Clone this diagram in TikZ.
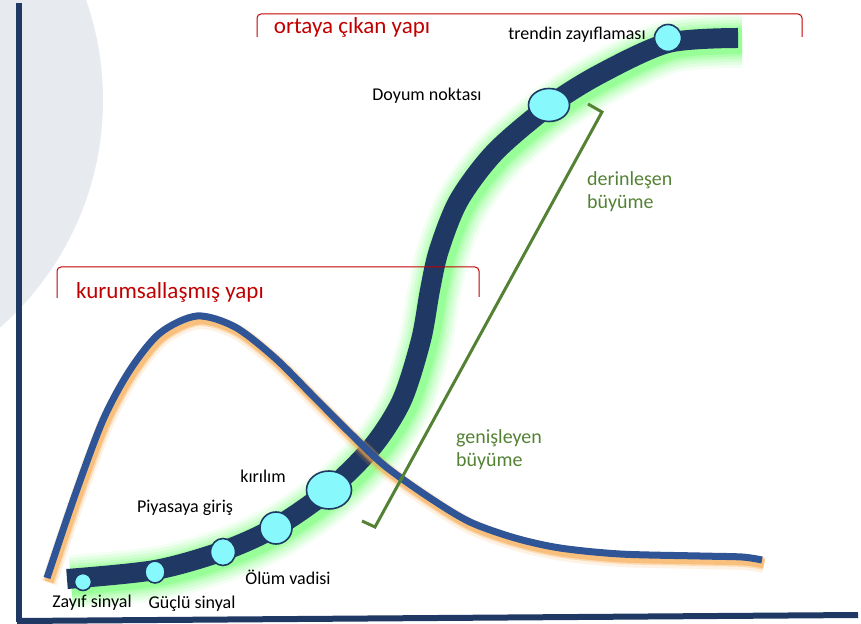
\documentclass[tikz,border=0pt]{standalone}
\usepackage{fontspec}
\setmainfont{Carlito}
\usepackage{xcolor}
\usepackage{tikz}
\usetikzlibrary{shapes,positioning,calc}

\definecolor{navy}{HTML}{203864}
\definecolor{curveblue}{HTML}{2F5597}
\definecolor{bggray}{HTML}{E7EBF0}
\definecolor{dotcyan}{HTML}{87F8FC}
\definecolor{glowgreen}{HTML}{5CFF5C}
\definecolor{gloworange}{HTML}{F7A647}
\definecolor{headred}{HTML}{C00000}
\definecolor{growgreen}{HTML}{548235}

\newcommand{\scurve}{plot[smooth] coordinates {(67,579) (155,570) (223,551) (276,527) (329,490) (373,446) (402,400) (421,340) (430,290) (439,250) (459,200) (495,152) (549,106) (600,74) (668,43) (738,38)}}
\newcommand{\bellcurve}{plot[smooth] coordinates {(47,578) (75,495) (103,420) (130,370) (160,333) (197,316) (235,327) (275,358) (315,398) (350,433) (385,466) (430,498) (470,522) (515,538) (560,548) (620,554) (700,556) (742,557) (762,560)}}

\tikzset{
  dot/.style={ellipse, draw=navy, line width=0.8pt, fill=dotcyan, inner sep=0pt},
  lbl/.style={font=\fontsize{9}{10}\selectfont, text=black},
  head/.style={font=\fontsize{11.5}{13}\selectfont, text=headred},
  growtext/.style={font=\fontsize{10}{11.5}\selectfont, text=growgreen, align=left, anchor=west},
  bracket/.style={draw=headred, line width=0.5pt, rounded corners=2pt}
}

\begin{document}
\begin{tikzpicture}[x=0.5pt, y=-0.5pt]
        \useasboundingbox (0,0) rectangle (861,624);
        \fill[bggray] (-200,100) circle[radius=151.5pt]; % background disc

        % glow under the growth curve
        \draw[glowgreen, opacity=0.08, line width=27pt, shift={(4,3)}] \scurve;
        \draw[glowgreen, opacity=0.1, line width=24pt, shift={(4,3)}] \scurve;
        \draw[glowgreen, opacity=0.12, line width=21pt, shift={(4,3)}] \scurve;
        \draw[glowgreen, opacity=0.15, line width=18pt, shift={(4,3)}] \scurve;
        \draw[glowgreen, opacity=0.2, line width=15.5pt, shift={(4,3)}] \scurve;
        \draw[glowgreen, opacity=0.25, line width=13pt, shift={(4,3)}] \scurve;
        \draw[navy, line width=10pt] \scurve; % growth curve

        % bell curve with its orange shadow
        \draw[gloworange, opacity=0.15, line width=8pt, shift={(2,5)}] \bellcurve;
        \draw[gloworange, opacity=0.3, line width=6pt, shift={(2,4)}] \bellcurve;
        \draw[gloworange, opacity=0.5, line width=4.5pt, shift={(2,4)}] \bellcurve;
        \draw[curveblue, line width=3.5pt] \bellcurve;

        % axes
        \draw[navy, line width=3pt] (19,3) -- (19,622);
        \draw[navy, line width=3pt] (17,621) -- (858,615);

        % stages on the curve
        \node[dot, minimum width=8.5pt, minimum height=8.5pt] (zayif) at (83,582) {};
        \node[dot, minimum width=10pt, minimum height=11pt] (guclu) at (155,572) {};
        \node[dot, minimum width=12.5pt, minimum height=13.5pt] (giris) at (223,552) {};
        \node[dot, minimum width=16pt, minimum height=16pt] (olum) at (276,528) {};
        \node[dot, minimum width=22.5pt, minimum height=19pt] (kirilim) at (329,490) {};
        \node[dot, minimum width=20.5pt, minimum height=16.5pt] (doyum) at (549,105) {};
        \node[dot, minimum width=13.5pt, minimum height=13.5pt] (trend) at (668,38) {};

        \node[lbl] (zayiflbl) at (92,603) {Zayıf sinyal};
        \node[lbl] (guclulbl) at (192,604) {Güçlü sinyal};
        \node[lbl] (girislbl) at (185,508) {Piyasaya giriş};
        \node[lbl] (olumlbl) at (288,577) {Ölüm vadisi};
        \node[lbl] (kirilimlbl) at (263,476) {kırılım};
        \node[lbl] (doyumlbl) at (427,96) {Doyum noktası};
        \node[lbl] (trendlbl) at (577,35) {trendin zayıflaması};

        % brackets
        \draw[bracket] (257,37) |- (802,14) -- (802,37);
        \draw[bracket] (57,298) |- (479,267) -- (479,297);
        \node[head] (ortaya) at (352,27) {ortaya çıkan yapı};
        \node[head] (kurumsal) at (170,292) {kurumsallaşmış yapı};

        \draw[growgreen, line width=1.5pt] (588,104) -- (602,112) -- (375,527) -- (362,521); % growth bracket
        \node[growtext] (derin) at (580,192) {derinleşen\\büyüme};
        \node[growtext] (genis) at (449,450) {genişleyen\\büyüme};
    \end{tikzpicture}
\end{document}
